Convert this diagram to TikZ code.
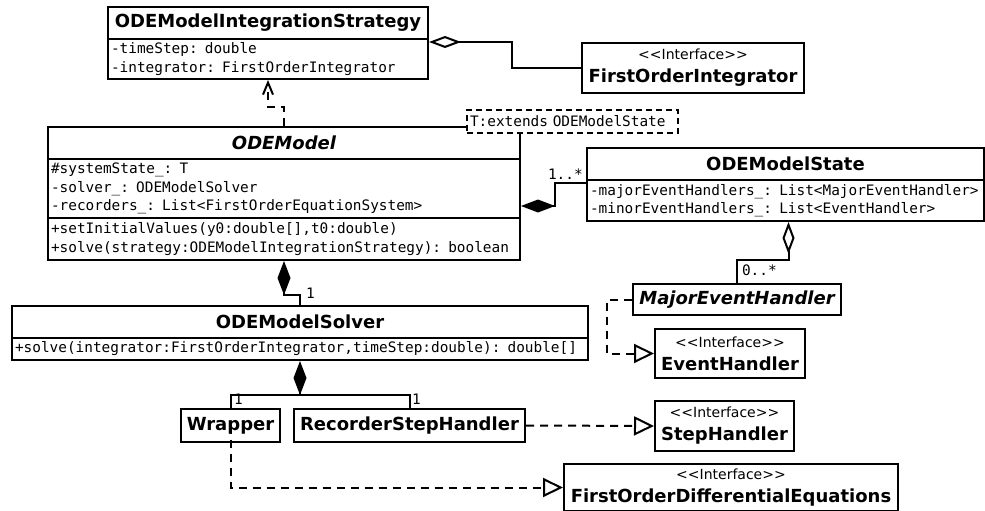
\documentclass[tikz,border=0pt]{standalone}
\usepackage{fontspec}
\setmainfont{DejaVu Sans}
\newfontfamily\umlmono{DejaVu Sans Mono}
\usetikzlibrary{arrows.meta,calc}

\newcommand\titlefont{\fontsize{18}{23}\selectfont\bfseries}
\newcommand\memberfont{\umlmono\fontsize{14.4}{18.5}\selectfont}
\newcommand\stereo{{\mdseries\fontsize{14}{18}\selectfont <\kern0pt<Interface>\kern0pt>}}

\begin{document}
\begin{tikzpicture}[x=1pt, y=-1pt, line width=2pt]
\tikzset{ box/.style={draw, fill=white, anchor=north west, inner sep=0pt},
  classname/.style={box, font=\titlefont, minimum height=32pt},
  members/.style={box, font=\memberfont, align=left, inner xsep=3pt},
  iface/.style={box, font=\titlefont, align=center},
  mult/.style={font=\memberfont, inner sep=0pt, anchor=south west},
  dep/.style={dash pattern=on 8pt off 6pt, -{Straight Barb[length=12pt,width=10pt]}},
  real/.style={dash pattern=on 8pt off 6pt, -{Triangle[open,length=20pt,width=19pt]}},
  comp/.style={-{Diamond[length=34pt,width=13pt]}},
  aggr/.style={-{Diamond[open,length=32pt,width=12pt]}},
}

\useasboundingbox (0,0) rectangle (985,511);

%\draw [lightgray, dashed](0,0) grid[step=50] (985,511);

\node [classname, minimum width=320pt] (stratname) at (107,6) {ODEModelIntegrationStrategy};
\node [members, text width=314pt, minimum height=40pt] (stratattr) at (107,38)
  {-timeStep: double\\-integrator: FirstOrderIntegrator};

\node [iface, minimum width=222pt, minimum height=50pt] (integ) at (581,42) {\stereo\\FirstOrderIntegrator};

\node [classname, minimum width=472pt] (modelname) at (47,126) {\itshape ODEModel};
\node [members, text width=466pt, minimum height=59pt] (modelattr) at (47,158)
  {\#systemState\_: T\\-solver\_: ODEModelSolver\\-recorders\_: List<FirstOrderEquationSystem>};
\node [members, text width=466pt, minimum height=42pt] (modelops) at (47,217)
  {+setInitialValues(y0:double[],t0:double)\\+solve(strategy:ODEModelIntegrationStrategy): boolean};

\node [members, dash pattern=on 6pt off 4pt, text width=205pt, minimum height=23pt] (tparam) at (466,109)
  {T:extends ODEModelState};

\node [classname, minimum width=397pt] (statename) at (586,147) {ODEModelState};
\node [members, text width=391pt, minimum height=41pt] (stateattr) at (586,179)
  {-majorEventHandlers\_: List<MajorEventHandler>\\-minorEventHandlers\_: List<EventHandler>};

\node [classname, minimum width=576pt] (solvername) at (11,305) {ODEModelSolver};
\node [members, text width=570pt, minimum height=22pt] (solverops) at (11,337)
  {+solve(integrator:FirstOrderIntegrator,timeStep:double): double[]};

\node [classname, minimum width=208pt, minimum height=31pt] (meh) at (632,283) {\itshape MajorEventHandler};
\node [iface, minimum width=150pt, minimum height=49pt] (evh) at (654,328) {\stereo\\EventHandler};
\node [iface, minimum width=139pt, minimum height=50pt] (steph) at (654,400) {\stereo\\StepHandler};

\node [classname, minimum width=99pt, minimum height=33pt] (wrapper) at (180,408) {Wrapper};
\node [classname, minimum width=231pt, minimum height=33pt] (rsh) at (293,408) {RecorderStepHandler};
\node [iface, minimum width=334pt, minimum height=47pt] (fode) at (563,463) {\stereo\\FirstOrderDifferentialEquations};

% relations
\draw [aggr] (integ.west) -- ++(-69,0) |- ([yshift=-4pt]stratattr.north east);
\draw [dep] (modelname.north) -- ++(0,-19) -| (stratattr.south);
\draw [comp] ([yshift=-4pt]stateattr.north west) -- ++(-31,0) |- ([yshift=13pt]modelattr.south east);
\draw [comp] (solvername.north) -- ++(0,-10) -| (modelops.south);

\coordinate (join) at ($(solverops.south |- wrapper.north)+(0,-13)$);
\draw [comp] (wrapper.north) |- (join) -- (solverops.south);
\draw (rsh.north) |- (join);

\draw [aggr] (meh.north) -- ++(0,-23) -| ([xshift=3pt]stateattr.south);
\draw [real] (meh.west) -- ++(-25,0) |- (evh.west);
\draw [real] (rsh.east) -- (steph.west);
\draw [real] (wrapper.center) |- (fode.west);

\node [mult] (mstate) at (547,180) {1..*};
\node [mult] (msolver) at (305,299) {1};
\node [mult] (mwrap) at (233,405) {1};
\node [mult] (mrsh) at (411,405) {1};
\node [mult] (mmeh) at (741,277) {0..*};

\end{tikzpicture}
\end{document}
